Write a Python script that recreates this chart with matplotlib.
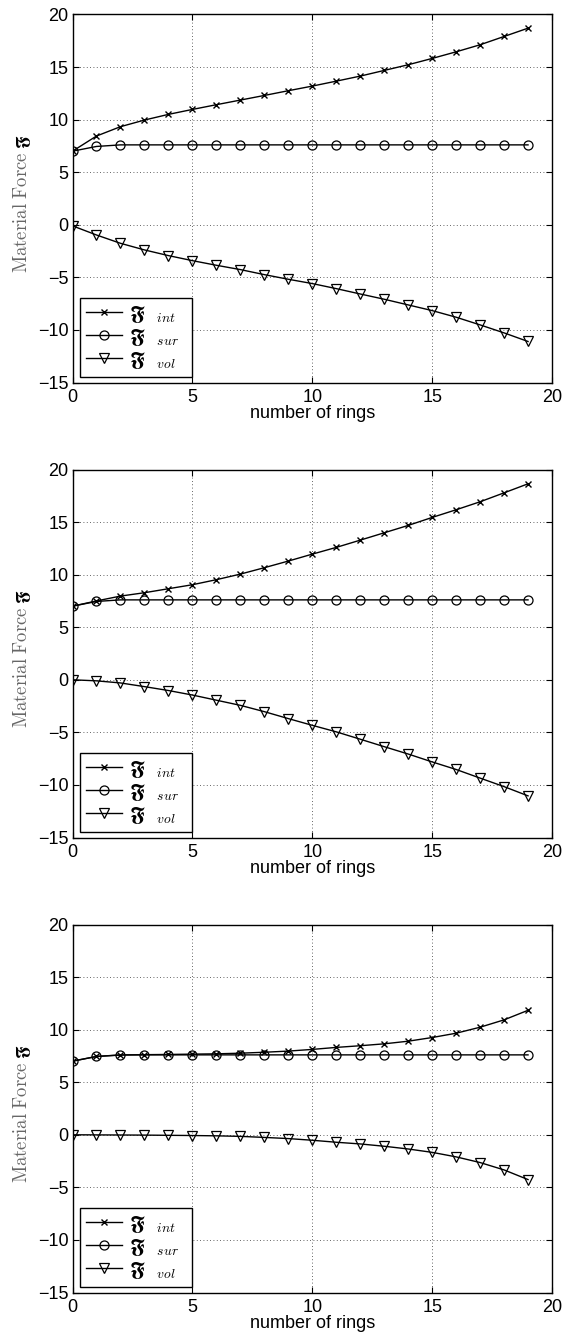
import matplotlib
matplotlib.use("Agg")
import matplotlib.pyplot as plt

plt.rcParams["mathtext.fontset"] = "cm"
plt.rcParams["font.family"] = ["Liberation Sans", "DejaVu Sans"]

rings = list(range(20))

# case 1
int_1 = [7.0, 8.44, 9.33, 9.96, 10.5, 10.97, 11.42, 11.86, 12.30, 12.75,
         13.19, 13.66, 14.14, 14.68, 15.22, 15.82, 16.45, 17.12, 17.91, 18.70]
sur_1 = [7.0, 7.45, 7.6, 7.6, 7.6, 7.6, 7.6, 7.6, 7.6, 7.6,
         7.6, 7.6, 7.6, 7.6, 7.6, 7.6, 7.6, 7.6, 7.6, 7.6]
vol_1 = [-0.1, -0.97, -1.76, -2.39, -2.93, -3.41, -3.85, -4.26, -4.74, -5.18,
         -5.59, -6.07, -6.58, -7.08, -7.62, -8.16, -8.79, -9.52, -10.28, -11.1]

# case 2
int_2 = [7.0, 7.5, 7.96, 8.28, 8.66, 9.04, 9.52, 10.05, 10.66, 11.29,
         11.95, 12.59, 13.28, 13.98, 14.68, 15.44, 16.17, 16.93, 17.78, 18.64]
sur_2 = [7.0, 7.45, 7.6, 7.6, 7.6, 7.6, 7.6, 7.6, 7.6, 7.6,
         7.6, 7.6, 7.6, 7.6, 7.6, 7.6, 7.6, 7.6, 7.6, 7.6]
vol_2 = [0.0, -0.1, -0.3, -0.65, -1.02, -1.45, -1.94, -2.43, -3.03, -3.69,
         -4.33, -4.95, -5.65, -6.36, -7.06, -7.81, -8.53, -9.35, -10.16, -11.04]

# case 3
int_3 = [7.0, 7.45, 7.58, 7.62, 7.64, 7.67, 7.70, 7.76, 7.85, 7.96,
         8.12, 8.31, 8.47, 8.65, 8.90, 9.25, 9.66, 10.23, 10.93, 11.84]
sur_3 = [7.0, 7.45, 7.6, 7.6, 7.6, 7.6, 7.6, 7.6, 7.6, 7.6,
         7.6, 7.6, 7.6, 7.6, 7.6, 7.6, 7.6, 7.6, 7.6, 7.6]
vol_3 = [0.0, -0.01, -0.02, -0.03, -0.05, -0.07, -0.1, -0.15, -0.25, -0.36,
         -0.52, -0.71, -0.87, -1.09, -1.35, -1.67, -2.1, -2.64, -3.34, -4.26]

cases = [(int_1, sur_1, vol_1), (int_2, sur_2, vol_2), (int_3, sur_3, vol_3)]

x_ticks = [0, 5, 10, 15, 20]
y_ticks = [-15, -10, -5, 0, 5, 10, 15, 20]

frak_F = r"$\mathbf{\mathfrak{F}}$"
labels = [r"$\mathbf{\mathfrak{F}}\ \ {}_{int}$" + "  ",
          r"$\mathbf{\mathfrak{F}}\ \ {}_{sur}$" + "  ",
          r"$\mathbf{\mathfrak{F}}\ \ {}_{vol}$" + "  "]

W, H = 565, 1343
fig = plt.figure(figsize=(W / 100, H / 100), dpi=100)

left_px, width_px, height_px = 72.5, 479.5, 368.0
tops_px = [14.5, 469.5, 924.5]

for (fi, fs, fv), top in zip(cases, tops_px):
    ax = fig.add_axes([left_px / W, 1 - (top + height_px) / H,
                       width_px / W, height_px / H])
    ax.plot(rings, fi, color="black", lw=1.0, marker="x", ms=4.5,
            mew=1.0, label=labels[0])
    ax.plot(rings, fs, color="black", lw=1.0, marker="o", ms=6.5,
            mfc="none", mew=0.9, label=labels[1])
    ax.plot(rings, fv, color="black", lw=1.0, marker="v", ms=7,
            mfc="none", mew=0.9, label=labels[2])

    ax.set_xlim(0, 20)
    ax.set_ylim(-15, 20)
    ax.set_xticks(x_ticks)
    ax.set_yticks(y_ticks)
    ax.tick_params(direction="in", top=True, right=True, length=4,
                   width=0.8, labelsize=13)
    ax.tick_params(axis="x", pad=5)
    ax.tick_params(axis="y", pad=3)
    ax.grid(True, linestyle=(0, (1, 3)), color="#333333", lw=0.6)
    for sp in ax.spines.values():
        sp.set_linewidth(1.0)

    ax.set_xlabel("number of rings", fontsize=13, labelpad=-1)

    # y label: grey text followed by a black fraktur symbol
    ax.text(-0.105, 0.462, r"$\mathrm{Material\ Force}$", rotation=90,
            transform=ax.transAxes, ha="center", va="center",
            fontsize=13.5, color="#666666")
    ax.text(-0.103, 0.655, frak_F, rotation=90,
            transform=ax.transAxes, ha="center", va="center",
            fontsize=12, color="black")

    leg = ax.legend(loc="lower left", bbox_to_anchor=(0.015, 0.015),
                    fancybox=False, framealpha=1, edgecolor="black",
                    fontsize=14, handlelength=1.9, borderaxespad=0,
                    labelspacing=0.1, handletextpad=0.35, borderpad=0.3)
    leg.get_frame().set_linewidth(1.0)

fig.savefig("out.png", dpi=100)
